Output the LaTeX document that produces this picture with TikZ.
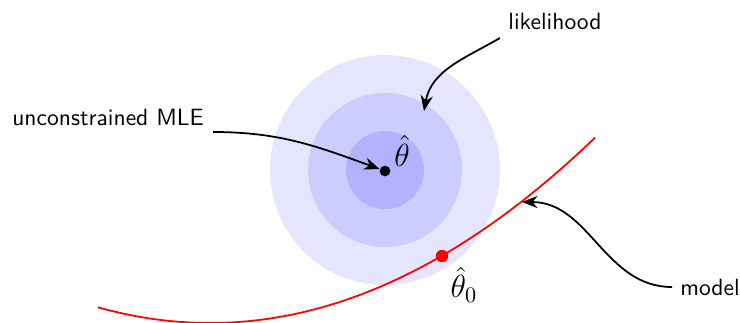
\documentclass[tikz,border=0pt]{standalone}
\usepackage{amsmath}
\usetikzlibrary{arrows.meta}
\begin{document}
\begin{tikzpicture}[x=0.45pt,y=-0.45pt,
  lbl/.style={font=\sffamily\fontsize{10.6}{12}\selectfont},
  est/.style={font=\Large, inner sep=0pt},
  pointer/.style={-{Stealth[length=7pt,width=5.5pt]}, thick}]
\useasboundingbox (0,0) rectangle (740,322);

% likelihood contours
\fill[blue!10] (385,170) circle (115);
\fill[blue!20] (385,170) circle (77);
\fill[blue!30] (385,170) circle (39);

% model curve
\draw[red, thick, domain=98:595, samples=80] plot (\x, {323-((\x-210)/28.28)^2});

% estimates
\node[circle, fill=black, inner sep=0pt, minimum size=4.8pt] (mle) at (385,171) {};
\node[est] (mlesym) at (402,151) {$\hat{\theta}$};
\node[circle, fill=red, inner sep=0pt, minimum size=5.6pt] (mle0) at (442,256) {};
\node[est] (mle0sym) at (464,285) {$\hat{\theta}_0$};

% labels
\node[lbl] (mlelbl) at (108,117) {unconstrained MLE};
\node[lbl] (liklbl) at (555,21) {likelihood};
\node[lbl] (modlbl) at (710,287) {model};
\coordinate (mlestart) at (213,132);
\coordinate (likstart) at (500,38);
\coordinate (likend) at (424,111);
\coordinate (modstart) at (672,287);
\coordinate (modend) at (522,202);

% pointers
\draw[pointer] (mlestart) to[out=0, in=160] (mle);
\draw[pointer] (likstart) to[out=210, in=80] (likend);
\draw[pointer] (modstart) to[out=180, in=0] (modend);
\end{tikzpicture}
\end{document}
